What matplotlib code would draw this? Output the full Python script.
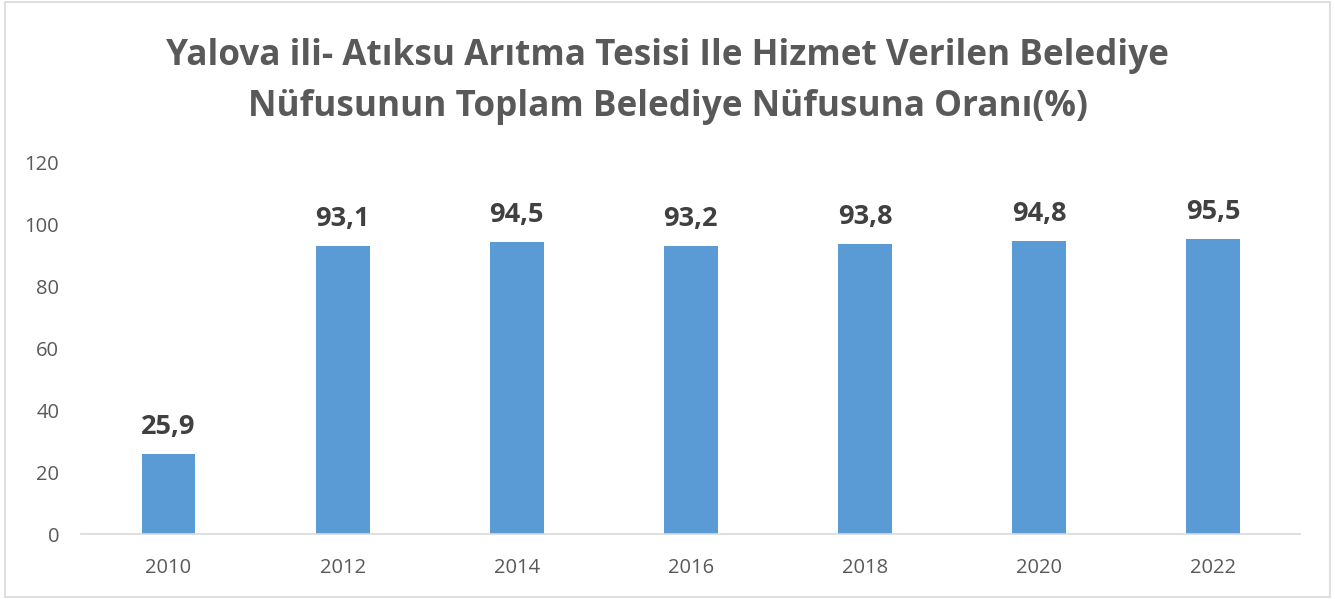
import matplotlib.pyplot as plt
from matplotlib.patches import Rectangle

# Data
years = ['2010', '2012', '2014', '2016', '2018', '2020', '2022']
oran = [25.9, 93.1, 94.5, 93.2, 93.8, 94.8, 95.5]
y_ticks = [0, 20, 40, 60, 80, 100, 120]

title = 'Yalova ili- Atıksu Arıtma Tesisi Ile Hizmet Verilen Belediye\nNüfusunun Toplam Belediye Nüfusuna Oranı(%)'

fig = plt.figure(figsize=(13.35, 5.99), dpi=100)
ax = fig.add_axes([0.061, 0.108, 0.913, 0.620])

x = range(len(years))
bars = ax.bar(x, oran, width=0.31, color='#5B9BD5')

for xi, v in zip(x, oran):
    ax.text(xi, v + 4.5, f'{v:.1f}'.replace('.', ','), ha='center', va='bottom',
            fontsize=19.5, fontweight='bold', color='#404040', family='Open Sans')

ax.set_xlim(-0.5, len(years) - 0.5)
ax.set_ylim(0, 120)
ax.set_yticks(y_ticks)
ax.set_xticks(list(x))
ax.set_xticklabels(years)

for s in ['top', 'right', 'left']:
    ax.spines[s].set_visible(False)
ax.spines['bottom'].set_color('#D9D9D9')
ax.spines['bottom'].set_linewidth(1.2)
ax.tick_params(axis='both', length=0, labelsize=14.5, colors='#595959')
ax.tick_params(axis='x', pad=17)
ax.tick_params(axis='y', pad=16)
for lbl in ax.get_xticklabels() + ax.get_yticklabels():
    lbl.set_family('Open Sans')

fig.text(0.5, 0.937, title, ha='center', va='top', fontsize=25.3, fontweight='bold',
         color='#595959', family='Open Sans', linespacing=1.55)

# light border around the chart
fig.patches.append(Rectangle((0.004, 0.004), 0.992, 0.992, transform=fig.transFigure,
                             fill=False, edgecolor='#D9D9D9', linewidth=1.2))

plt.savefig('out.png', dpi=100)
